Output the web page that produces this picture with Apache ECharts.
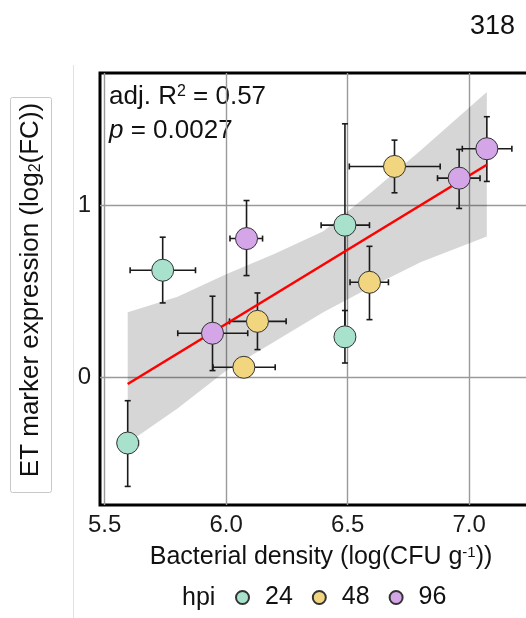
<!DOCTYPE html>
<html>
<head>
<meta charset="utf-8">
<script src="https://cdn.jsdelivr.net/npm/echarts@6/dist/echarts.min.js"></script>
<style>
html, body { margin: 0; padding: 0; background: #fff; }
#chart { width: 526px; height: 618px; }
</style>
</head>
<body>
<div id="chart"></div>
<script>
// each point: [x, y, xLow, xHigh, yLow, yHigh]
var hpi24 = [
  [5.595, -0.380, 5.554, 5.639, -0.632, -0.134],
  [5.739, 0.624, 5.605, 5.874, 0.434, 0.816],
  [6.489, 0.886, 6.391, 6.590, 0.290, 1.475],
  [6.489, 0.237, 6.489, 6.489, 0.085, 0.390]
];
var hpi48 = [
  [6.073, 0.060, 5.946, 6.202, 0.060, 0.060],
  [6.129, 0.327, 6.014, 6.247, 0.163, 0.492],
  [6.590, 0.554, 6.510, 6.668, 0.337, 0.763],
  [6.693, 1.227, 6.507, 6.881, 1.074, 1.380]
];
var hpi96 = [
  [5.944, 0.258, 5.801, 6.089, 0.041, 0.473],
  [6.084, 0.808, 6.016, 6.150, 0.593, 1.029],
  [6.959, 1.159, 6.870, 7.045, 0.983, 1.326],
  [7.073, 1.330, 6.972, 7.176, 1.140, 1.516]
];
var groupNames = ['24', '48', '96'];
var groupColors = ['#a8e2cd', '#f2d57f', '#d4a6e8'];

var fitLine = [[5.595, -0.037], [7.073, 1.237]];
var bandX = [5.595, 5.8, 6.0, 6.2, 6.4, 6.6, 6.8, 7.073];
var bandUpper = [0.38, 0.47, 0.60, 0.72, 0.85, 1.08, 1.32, 1.66];
var bandLower = [-0.38, -0.18, 0.04, 0.21, 0.38, 0.53, 0.67, 0.82];

var xTicks = [5.5, 6.0, 6.5, 7.0];
var yTicks = [0, 1];

var font = 'Liberation Sans, Arial, Helvetica, sans-serif';
var chart = echarts.init(document.getElementById('chart'), null, {renderer: 'canvas'});

function renderBand(params, api) {
  if (params.dataIndex !== 0) return;
  var pts = [];
  for (var i = 0; i < bandX.length; i++) pts.push(api.coord([bandX[i], bandUpper[i]]));
  for (var j = bandX.length - 1; j >= 0; j--) pts.push(api.coord([bandX[j], bandLower[j]]));
  return {
    type: 'polygon',
    shape: {points: pts},
    style: {fill: 'rgba(0,0,0,0.16)', stroke: null}
  };
}

function renderErrorBar(params, api) {
  var x = api.value(0), y = api.value(1);
  var l = api.coord([api.value(2), y]);
  var r = api.coord([api.value(3), y]);
  var b = api.coord([x, api.value(4)]);
  var t = api.coord([x, api.value(5)]);
  var cap = 3;
  var st = {stroke: '#1a1a1a', lineWidth: 1.6};
  var kids = [];
  if (r[0] - l[0] > 1) {
    kids.push({type: 'line', shape: {x1: l[0], y1: l[1], x2: r[0], y2: r[1]}, style: st});
    kids.push({type: 'line', shape: {x1: l[0], y1: l[1] - cap, x2: l[0], y2: l[1] + cap}, style: st});
    kids.push({type: 'line', shape: {x1: r[0], y1: r[1] - cap, x2: r[0], y2: r[1] + cap}, style: st});
  }
  if (b[1] - t[1] > 1) {
    kids.push({type: 'line', shape: {x1: t[0], y1: t[1], x2: b[0], y2: b[1]}, style: st});
    kids.push({type: 'line', shape: {x1: t[0] - cap, y1: t[1], x2: t[0] + cap, y2: t[1]}, style: st});
    kids.push({type: 'line', shape: {x1: b[0] - cap, y1: b[1], x2: b[0] + cap, y2: b[1]}, style: st});
  }
  return {type: 'group', children: kids};
}

var allPoints = hpi24.concat(hpi48, hpi96);

var scatterSeries = [hpi24, hpi48, hpi96].map(function (pts, k) {
  return {
    type: 'scatter',
    name: groupNames[k],
    data: pts.map(function (p) { return [p[0], p[1]]; }),
    symbolSize: 22,
    itemStyle: {color: groupColors[k], borderColor: '#333', borderWidth: 1, opacity: 1},
    z: 5
  };
});

var option = {
  animation: false,
  backgroundColor: '#fff',
  grid: {
    left: 100, top: 73, width: 442, bottom: 113,
    outerBoundsMode: 'none', containLabel: false,
    show: true, borderColor: '#000', borderWidth: 3, backgroundColor: 'transparent'
  },
  xAxis: {
    type: 'value', min: 5.481, max: 7.3,
    name: 'Bacterial density (log(CFU g{sup|-1}))',
    nameLocation: 'middle', nameGap: 40,
    nameTextStyle: {
      fontFamily: font, fontSize: 25, color: '#111',
      rich: {sup: {fontFamily: font, fontSize: 15, color: '#111', verticalAlign: 'top'}}
    },
    axisLine: {show: false},
    axisTick: {show: false, customValues: xTicks},
    axisLabel: {
      customValues: xTicks, fontFamily: font, fontSize: 24, color: '#1a1a1a', margin: 8,
      formatter: function (v) { return v.toFixed(1); }
    },
    splitLine: {show: true, lineStyle: {color: '#9a9a9a', width: 1.4}}
  },
  yAxis: {
    type: 'value', min: -0.74, max: 1.77,
    axisLine: {show: false},
    axisTick: {show: false, customValues: yTicks},
    axisLabel: {customValues: yTicks, fontFamily: font, fontSize: 24, color: '#1a1a1a', margin: 9},
    splitLine: {show: true, lineStyle: {color: '#9a9a9a', width: 1.4}}
  },
  legend: {
    data: groupNames,
    left: 235, top: 585, padding: 0,
    icon: 'circle', itemWidth: 13, itemHeight: 13, itemGap: 19,
    textStyle: {fontFamily: font, fontSize: 25, color: '#111', padding: [0, 0, 0, 11]}
  },
  series: [
    {type: 'custom', name: 'band', data: [[bandX[0], bandLower[0]]], renderItem: renderBand, silent: true, z: 1},
    {
      type: 'custom', name: 'errors', data: allPoints,
      dimensions: ['x', 'y', 'xlo', 'xhi', 'ylo', 'yhi'],
      encode: {x: 0, y: 1}, renderItem: renderErrorBar, silent: true, z: 2
    },
    {
      type: 'line', name: 'fit', data: fitLine, showSymbol: false, silent: true,
      lineStyle: {color: '#ff0000', width: 2.6}, z: 3
    }
  ].concat(scatterSeries),
  graphic: [
    {type: 'text', x: 515, y: 27, style: {text: '318', font: '27px ' + font, fill: '#111', align: 'right', verticalAlign: 'middle'}},
    {type: 'line', shape: {x1: 73.5, y1: 65, x2: 73.5, y2: 618}, style: {stroke: '#e2e2e2', lineWidth: 1}},
    {type: 'rect', shape: {x: 10.5, y: 97.5, width: 41, height: 395, r: 2}, style: {fill: null, stroke: '#c8c8c8', lineWidth: 1}},
    {
      type: 'text', x: 31, y: 290, rotation: Math.PI / 2,
      style: {
        text: 'ET marker expression (log{sub|2}(FC))',
        font: '26px ' + font, fill: '#111', align: 'center', verticalAlign: 'middle',
        rich: {sub: {fontFamily: font, fontSize: 16, fill: '#111', verticalAlign: 'bottom'}}
      }
    },
    {
      type: 'text', x: 109, y: 97,
      style: {
        text: 'adj. R{sup|2} = 0.57', font: '26px ' + font, fill: '#111', verticalAlign: 'middle',
        rich: {sup: {fontFamily: font, fontSize: 16, fill: '#111', verticalAlign: 'top'}}
      }
    },
    {
      type: 'text', x: 109, y: 131,
      style: {
        text: '{i|p} = 0.0027', font: '26px ' + font, fill: '#111', verticalAlign: 'middle',
        rich: {i: {fontFamily: font, fontSize: 26, fontStyle: 'italic', fill: '#111'}}
      }
    },
    {type: 'text', x: 182, y: 598, style: {text: 'hpi', font: '25px ' + font, fill: '#111', verticalAlign: 'middle'}}
  ]
};
chart.setOption(option);
</script>
</body>
</html>
